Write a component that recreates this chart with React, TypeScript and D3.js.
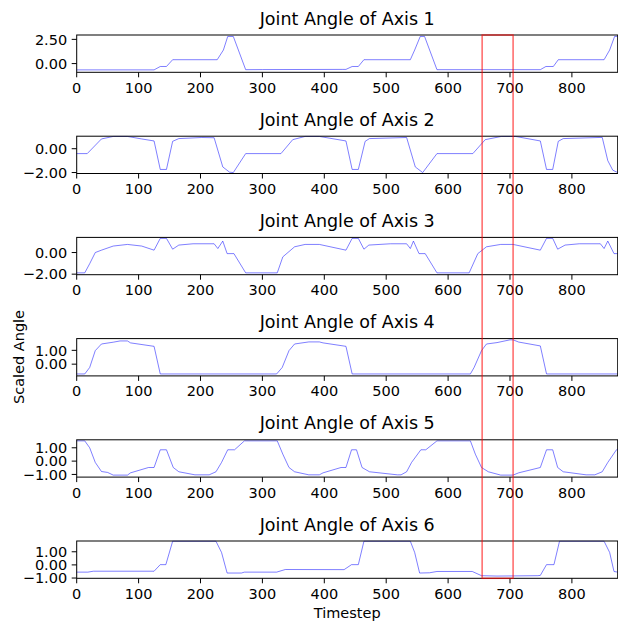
import React from "react";
import * as d3 from "d3";

// keypoints, one pair of arrays per joint
const axis1Time = [0, 125, 135, 145, 155, 227, 237, 244, 253, 273, 300, 430, 435, 445, 455, 464, 539, 546, 555, 562, 582, 749, 758, 770, 778, 852, 861, 869, 874];
const axis1Value = [-0.65, -0.65, -0.3, -0.3, 0.4, 0.4, 1.4, 2.8, 2.8, -0.63, -0.62, -0.6, -0.6, -0.3, -0.3, 0.4, 0.4, 1.4, 2.8, 2.8, -0.63, -0.63, -0.3, -0.3, 0.4, 0.4, 1.4, 2.8, 2.8];

const axis2Time = [0, 17, 40, 59, 82, 105, 125, 135, 145, 155, 165, 202, 222, 236, 247, 253, 273, 330, 349, 369, 392, 435, 445, 455, 466, 473, 533, 547, 559, 582, 640, 660, 686, 709, 749, 759, 769, 778, 786, 849, 858, 866, 874];
const axis2Value = [-0.41, -0.41, 0.82, 1.03, 1.03, 0.82, 0.65, -1.74, -1.74, 0.62, 0.85, 0.94, 0.92, -1.53, -1.97, -2.0, -0.41, -0.41, 0.76, 1.03, 1.03, 0.65, -1.74, -1.74, 0.62, 0.85, 0.94, -1.53, -2.0, -0.41, -0.41, 0.76, 1.03, 1.03, 0.65, -1.74, -1.74, 0.62, 0.85, 0.95, -1.0, -1.8, -2.0];

const axis3Time = [0, 13, 21, 30, 40, 59, 82, 105, 125, 135, 145, 155, 165, 188, 222, 228, 236, 243, 254, 273, 324, 333, 352, 369, 392, 435, 445, 455, 464, 472, 507, 533, 539, 544, 553, 563, 582, 634, 648, 662, 685, 705, 749, 759, 769, 777, 789, 812, 846, 852, 858, 868, 874];
const axis3Value = [-1.88, -1.88, -1.03, 0, 0.22, 0.6, 0.75, 0.6, 0.22, 1.31, 1.31, 0.31, 0.69, 0.81, 0.81, 0.37, 1.06, -0.1, -0.1, -1.88, -1.88, -0.4, 0.53, 0.75, 0.75, 0.22, 1.31, 1.31, 0.31, 0.69, 0.81, 0.81, 0.37, 1.06, -0.1, -0.1, -1.88, -1.88, -0.1, 0.53, 0.75, 0.75, 0.22, 1.31, 1.31, 0.31, 0.69, 0.81, 0.81, 0.37, 1.06, -0.1, -0.1];

const axis4Time = [0, 13, 21, 30, 40, 59, 70, 82, 87, 125, 135, 323, 332, 343, 352, 375, 392, 398, 435, 445, 636, 642, 654, 662, 679, 700, 705, 714, 749, 759, 874];
const axis4Value = [-0.71, -0.71, -0.24, 0.98, 1.46, 1.59, 1.68, 1.68, 1.54, 1.29, -0.71, -0.71, -0.24, 0.98, 1.46, 1.61, 1.61, 1.54, 1.29, -0.71, -0.71, -0.24, 0.98, 1.46, 1.56, 1.76, 1.76, 1.6, 1.32, -0.71, -0.71];

const axis5Time = [0, 13, 21, 30, 40, 50, 59, 82, 87, 116, 125, 135, 145, 156, 165, 191, 214, 225, 234, 244, 255, 271, 324, 333, 343, 352, 375, 392, 398, 427, 435, 444, 452, 461, 473, 518, 524, 533, 541, 556, 564, 582, 636, 644, 654, 665, 685, 705, 714, 749, 759, 769, 777, 786, 823, 837, 849, 858, 872, 874];
const axis5Value = [1.52, 1.52, 1.0, -0.1, -0.78, -0.85, -1.05, -1.05, -0.88, -0.48, -0.48, 0.85, 0.85, -0.48, -0.8, -1.03, -1.03, -0.8, -0.1, 0.85, 0.85, 1.52, 1.52, 0.52, -0.48, -0.8, -1.03, -1.03, -0.88, -0.48, -0.48, 0.85, 0.85, -0.48, -0.8, -1.03, -1.03, -0.8, -0.1, 0.85, 0.85, 1.52, 1.52, 0.52, -0.48, -0.8, -1.05, -1.05, -0.88, -0.48, 0.85, 0.85, -0.48, -0.8, -1.03, -1.03, -0.8, -0.1, 0.85, 0.9];

const axis6Time = [0, 18, 27, 125, 135, 144, 155, 225, 234, 243, 266, 271, 323, 337, 432, 444, 455, 464, 539, 546, 554, 570, 582, 639, 654, 679, 745, 749, 759, 771, 780, 852, 861, 868, 874];
const axis6Value = [-0.55, -0.55, -0.48, -0.48, 0.02, 0.02, 1.8, 1.8, 0.95, -0.62, -0.62, -0.55, -0.55, -0.35, -0.36, 0.02, 0.02, 1.8, 1.8, 0.95, -0.62, -0.6, -0.5, -0.5, -0.82, -0.85, -0.82, -0.8, 0.02, 0.02, 1.8, 1.8, 0.95, -0.5, -0.55];

const yDomains: [number, number][] = [[-0.9, 2.95], [-2.08, 1.05], [-2.05, 1.4], [-0.85, 1.85], [-1.2, 1.6], [-1.02, 1.82]];
const yTicks = [[0, 2.5], [-2, 0], [-2, 0], [0, 1], [-1, 0, 1], [-1, 0, 1]];
const xTicks = [0, 100, 200, 300, 400, 500, 600, 700, 800];
const highlight = [655, 705];

const series = [
  [axis1Time, axis1Value],
  [axis2Time, axis2Value],
  [axis3Time, axis3Value],
  [axis4Time, axis4Value],
  [axis5Time, axis5Value],
  [axis6Time, axis6Value],
];

const W = 618;
const H = 623;
const left = 76.7;
const right = 617.7;
const top0 = 35;
const pitch = 101.2;
const panelH = 37.3;
const font = "DejaVu Sans, sans-serif";

const fmt = (v: number) => d3.format(".2f")(v).replace("-", "\u2212");

export default function App() {
  const x = d3.scaleLinear().domain([0, 874]).range([left, right]);

  const panels = series.map(([ts, vs], i) => {
    const top = top0 + i * pitch;
    const bottom = top + panelH;
    const y = d3.scaleLinear().domain(yDomains[i]).range([bottom, top]);
    const line = d3
      .line<number>()
      .x((_, k) => x(ts[k]))
      .y((v) => y(v));
    return (
      <g key={i}>
        <text x={(left + right) / 2} y={top - 10.5} textAnchor="middle" fontSize={17.5} fill="#000">
          {`Joint Angle of Axis ${i + 1}`}
        </text>
        <path d={line(vs) || ""} fill="none" stroke="#0000ff" strokeOpacity={0.5} strokeWidth={1} />
        <rect x={left} y={top} width={right - left} height={panelH} fill="none" stroke="#000" strokeWidth={1} />
        {xTicks.map((t) => (
          <g key={t}>
            <line x1={x(t)} x2={x(t)} y1={bottom} y2={bottom + 5} stroke="#000" strokeWidth={1} />
            <text x={x(t)} y={bottom + 20.5} textAnchor="middle" fontSize={14.5} fill="#000">
              {t}
            </text>
          </g>
        ))}
        {yTicks[i].map((t) => (
          <g key={t}>
            <line x1={left - 5} x2={left} y1={y(t)} y2={y(t)} stroke="#000" strokeWidth={1} />
            <text x={left - 9.5} y={y(t) + 5.2} textAnchor="end" fontSize={14.5} fill="#000">
              {fmt(t)}
            </text>
          </g>
        ))}
      </g>
    );
  });

  const lastBottom = top0 + 5 * pitch + panelH;

  return (
    <svg width={W} height={H} style={{ position: "absolute", left: 0, top: 0, background: "#fff" }} fontFamily={font}>
      <rect width={W} height={H} fill="#fff" />
      {panels}
      <rect
        x={x(highlight[0])}
        y={top0}
        width={x(highlight[1]) - x(highlight[0])}
        height={lastBottom - top0}
        fill="none"
        stroke="#ff0000"
        strokeOpacity={0.6}
        strokeWidth={1.5}
      />
      <text x={(left + right) / 2} y={618} textAnchor="middle" fontSize={14.5} fill="#000">
        Timestep
      </text>
      <text transform={`translate(24,357) rotate(-90)`} textAnchor="middle" fontSize={14.5} fill="#000">
        Scaled Angle
      </text>
    </svg>
  );
}
